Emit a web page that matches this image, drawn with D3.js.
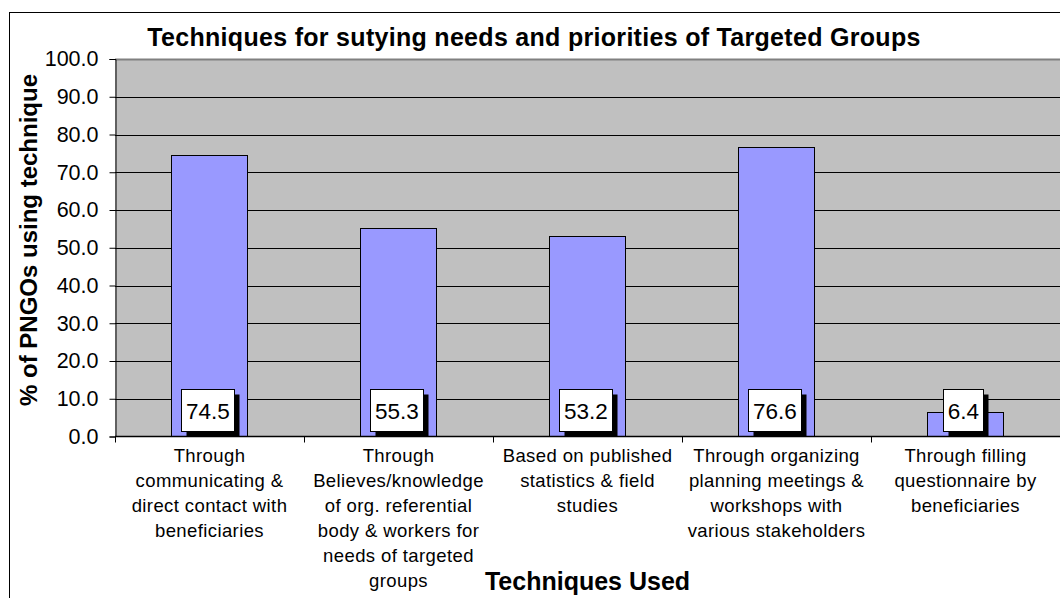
<!DOCTYPE html>
<html>
<head>
<meta charset="utf-8">
<script src="https://cdn.jsdelivr.net/npm/d3@7"></script>
<style>
  html, body { margin: 0; padding: 0; background: #fff; }
  svg { display: block; font-family: "Liberation Sans", Arial, sans-serif; }
</style>
</head>
<body>
<svg id="chart" width="1060" height="598"></svg>
<script>
// Techniques used by PNGOs to study needs of targeted groups (% of PNGOs)
const categories = [
  ["Through", "communicating &", "direct contact with", "beneficiaries"],
  ["Through", "Believes/knowledge", "of org. referential", "body & workers for", "needs of targeted", "groups"],
  ["Based on published", "statistics & field", "studies"],
  ["Through organizing", "planning meetings &", "workshops with", "various stakeholders"],
  ["Through filling", "questionnaire by", "beneficiaries"]
];
const values = [74.5, 55.3, 53.2, 76.6, 6.4];
const yTicks = [0, 10, 20, 30, 40, 50, 60, 70, 80, 90, 100];

const titleText = "Techniques for sutying needs and priorities of Targeted Groups";
const xTitleText = "Techniques Used";
const yTitleText = "% of PNGOs using technique";

const svg = d3.select("#chart");
const W = 1060, H = 598;
const plot = { left: 115, top: 59, right: 1060, bottom: 436.5 };

// outer chart border (runs past the right and bottom edges)
svg.append("rect")
  .attr("x", 9.5).attr("y", 12.5)
  .attr("width", W + 20).attr("height", H + 20)
  .attr("fill", "#fff").attr("stroke", "#000").attr("stroke-width", 1);

const x = d3.scaleBand()
  .domain(d3.range(values.length))
  .range([plot.left, plot.right])
  .paddingInner(0).paddingOuter(0);
const barW = x.bandwidth() / 2.5;   // gap width 150%

const y = d3.scaleLinear().domain([0, 100]).range([plot.bottom, plot.top]);

// plot background
svg.append("rect")
  .attr("x", plot.left).attr("y", plot.top)
  .attr("width", plot.right - plot.left).attr("height", plot.bottom - plot.top)
  .attr("fill", "#C0C0C0");

// horizontal gridlines
svg.append("g").selectAll("line")
  .data(yTicks.filter(t => t > 0 && t < 100))
  .join("line")
  .attr("x1", plot.left).attr("x2", plot.right)
  .attr("y1", d => Math.round(y(d)) + 0.5).attr("y2", d => Math.round(y(d)) + 0.5)
  .attr("stroke", "#000").attr("stroke-width", 1);

// plot area top border
svg.append("line")
  .attr("x1", plot.left).attr("x2", plot.right)
  .attr("y1", plot.top + 0.5).attr("y2", plot.top + 0.5)
  .attr("stroke", "#808080").attr("stroke-width", 2);

// bars
svg.append("g").selectAll("rect")
  .data(values)
  .join("rect")
  .attr("x", (d, i) => Math.round(x(i) + x.bandwidth() / 2 - barW / 2) - 0.5)
  .attr("y", d => Math.round(y(d)) + 0.5)
  .attr("width", Math.round(barW))
  .attr("height", d => y(0) - Math.round(y(d)) - 0.5)
  .attr("fill", "#9999FF")
  .attr("stroke", "#000").attr("stroke-width", 1);

// y axis
const yAxis = d3.axisLeft(y).tickValues(yTicks).tickSize(6).tickPadding(11)
  .tickFormat(d3.format(".1f"));
const gy = svg.append("g").attr("transform", `translate(${plot.left + 0.5},0)`).call(yAxis);
gy.select(".domain").attr("stroke", "#000");
gy.selectAll(".tick line").attr("stroke", "#000");
gy.selectAll(".tick text")
  .attr("font-family", "Liberation Sans, Arial, sans-serif")
  .attr("font-size", 21.5).attr("fill", "#000");

// x axis line with ticks at category boundaries
const gx = svg.append("g");
gx.append("line")
  .attr("x1", plot.left).attr("x2", plot.right)
  .attr("y1", plot.bottom).attr("y2", plot.bottom)
  .attr("stroke", "#000").attr("stroke-width", 1.5);
gx.selectAll("line.tk")
  .data(d3.range(values.length))
  .join("line").attr("class", "tk")
  .attr("x1", i => Math.round(x(i)) + 0.5).attr("x2", i => Math.round(x(i)) + 0.5)
  .attr("y1", plot.bottom).attr("y2", plot.bottom + 6)
  .attr("stroke", "#000");

// category labels
const labelG = svg.append("g")
  .attr("font-size", 18.5).attr("letter-spacing", 0.4)
  .attr("fill", "#000").attr("text-anchor", "middle");
categories.forEach((lines, i) => {
  const t = labelG.append("text")
    .attr("x", x(i) + x.bandwidth() / 2)
    .attr("y", 462);
  lines.forEach((ln, k) => {
    t.append("tspan")
      .attr("x", x(i) + x.bandwidth() / 2)
      .attr("dy", k === 0 ? 0 : 25)
      .text(ln);
  });
});

// value labels: white boxes with a drop shadow, sitting at the bar base
const fmt = d3.format(".1f");
const lblG = svg.append("g");
values.forEach((v, i) => {
  const cx = x(i) + x.bandwidth() / 2;
  const g = lblG.append("g");
  const txt = g.append("text")
    .attr("font-size", 22.5).attr("text-anchor", "middle")
    .attr("x", 0).attr("y", 0).text(fmt(v));
  const tw = txt.node().getComputedTextLength();
  const bw = Math.round(tw + 9), bh = 42, sh = 5;
  const bx = Math.round(cx - (bw + sh) / 2) + 0.5;
  const by = Math.round(y(0) - 6 - bh) + 0.5;
  g.insert("rect", "text")
    .attr("x", bx + sh).attr("y", by + sh)
    .attr("width", bw).attr("height", bh).attr("fill", "#000");
  g.insert("rect", "text")
    .attr("x", bx).attr("y", by)
    .attr("width", bw).attr("height", bh)
    .attr("fill", "#fff").attr("stroke", "#000").attr("stroke-width", 1);
  txt.attr("x", bx + bw / 2).attr("y", by + bh / 2 + 8);
});

// titles
svg.append("text")
  .attr("x", 534).attr("y", 46)
  .attr("text-anchor", "middle").attr("font-weight", "bold")
  .attr("font-size", 25).attr("letter-spacing", 0.3)
  .text(titleText);

svg.append("text")
  .attr("x", (plot.left + plot.right) / 2).attr("y", 590)
  .attr("text-anchor", "middle").attr("font-weight", "bold").attr("font-size", 25)
  .text(xTitleText);

svg.append("text")
  .attr("transform", `translate(37,240) rotate(-90)`)
  .attr("text-anchor", "middle").attr("font-weight", "bold").attr("font-size", 24)
  .text(yTitleText);
</script>
</body>
</html>
